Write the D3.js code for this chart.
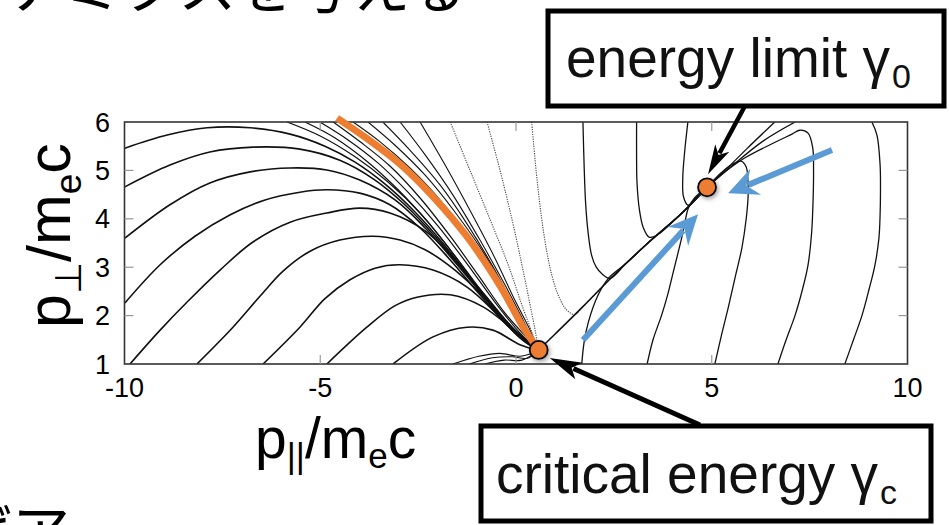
<!DOCTYPE html>
<html><head><meta charset="utf-8">
<script src="https://cdn.jsdelivr.net/npm/d3@7"></script>
<style>html,body{margin:0;padding:0;background:#fff;overflow:hidden}</style>
</head><body>
<svg id="chart" width="949" height="525"></svg>
<script>
// ---- axis ticks ----
const xTicks = [-10, -5, 0, 5, 10];
const yTicks = [1, 2, 3, 4, 5, 6];

// ---- trajectories in (p_par, p_perp) ----
// arcs entering from the left / bottom, bending over into the attractor
const arcsFromLeft = [
  [[-9.99,5.46],[-8.91,5.73],[-7.89,5.88],[-6.79,5.88],[-5.77,5.75],[-4.88,5.50],[-4.11,5.17],[-3.35,4.72],[-2.58,4.14],[-1.81,3.44],[-1.05,2.65],[-0.28,1.87],[0.56,1.29]],
  [[-9.99,4.66],[-8.84,5.11],[-7.82,5.38],[-6.72,5.48],[-5.52,5.44],[-4.50,5.21],[-3.60,4.80],[-2.84,4.29],[-2.07,3.64],[-1.30,2.90],[-0.54,2.12],[0.10,1.54],[0.56,1.29]],
  [[-9.99,3.60],[-8.84,4.29],[-7.82,4.74],[-6.79,4.97],[-5.77,5.05],[-4.83,5.01],[-3.99,4.80],[-3.09,4.39],[-2.32,3.81],[-1.56,3.11],[-0.79,2.36],[-0.10,1.70],[0.56,1.29]],
  [[-9.99,2.26],[-9.09,3.05],[-8.20,3.64],[-7.31,4.08],[-6.41,4.39],[-5.52,4.55],[-4.83,4.60],[-3.99,4.53],[-3.22,4.29],[-2.45,3.81],[-1.68,3.15],[-0.92,2.43],[-0.15,1.74],[0.56,1.29]],
  [[-9.86,1.0],[-9.09,1.70],[-8.40,2.28],[-7.56,2.94],[-6.72,3.52],[-5.77,3.93],[-4.83,4.12],[-3.99,4.22],[-3.22,4.12],[-2.32,3.75],[-1.56,3.15],[-0.79,2.42],[-0.10,1.76],[0.56,1.29]],
  [[-8.15,1.0],[-7.23,1.76],[-6.54,2.40],[-5.95,2.92],[-5.26,3.33],[-4.50,3.56],[-3.65,3.64],[-2.96,3.56],[-2.32,3.36],[-1.56,2.94],[-0.79,2.36],[-0.10,1.74],[0.56,1.29]],
  [[-6.46,1.0],[-5.52,1.76],[-4.88,2.35],[-4.24,2.74],[-3.60,2.98],[-2.96,3.05],[-2.12,2.94],[-1.25,2.59],[-0.41,1.97],[0.28,1.43],[0.56,1.29]],
  [[-4.83,1.0],[-3.81,1.76],[-3.10,2.20],[-2.53,2.38],[-1.68,2.43],[-0.84,2.18],[0.03,1.64],[0.56,1.29]],
  [[-3.14,1.0],[-2.12,1.56],[-1.25,1.76],[-0.59,1.70],[0.10,1.40],[0.56,1.29]]
];
// low bumps just below the critical point
const lowBumps = [
  [[-1.61,1.0],[-0.95,1.16],[-0.41,1.22],[0.10,1.16],[0.56,1.27]],
  [[-1.20,1.0],[-0.60,1.13],[-0.10,1.15],[0.30,1.12],[0.56,1.27]],
  [[-0.80,1.0],[-0.30,1.08],[0.15,1.08],[0.56,1.27]]
];
// lines entering from the top edge, left of the attractor
const arcsFromTop = [
  [[-5.85,6.0],[-5.00,5.71],[-4.11,5.28],[-3.27,4.76],[-2.45,4.12],[-1.68,3.36],[-0.92,2.53],[-0.15,1.79],[0.56,1.29]],
  [[-5.39,6.0],[-4.62,5.67],[-3.78,5.17],[-3.01,4.60],[-2.25,3.93],[-1.48,3.15],[-0.74,2.36],[-0.03,1.70],[0.56,1.29]],
  [[-5.01,6.0],[-4.29,5.63],[-3.52,5.15],[-2.76,4.55],[-1.99,3.85],[-1.25,3.07],[-0.54,2.28],[0.10,1.64],[0.56,1.29]],
  [[-4.67,6.0],[-3.98,5.59],[-3.22,5.09],[-2.45,4.43],[-1.68,3.64],[-0.97,2.84],[-0.28,2.05],[0.28,1.54],[0.56,1.29]]
];
// fan of lines right of the attractor, falling into the critical point
const fanToCritical = [
  [[-4.16,6.0],[-3.47,5.59],[-2.71,5.05],[-1.90,4.35],[-1.12,3.50],[-0.38,2.53],[0.23,1.66],[0.56,1.29]],
  [[-3.78,6.0],[-3.09,5.52],[-2.32,4.90],[-1.56,4.14],[-0.79,3.25],[-0.15,2.32],[0.36,1.60],[0.56,1.29]],
  [[-3.40,6.0],[-2.71,5.42],[-1.94,4.70],[-1.23,3.87],[-0.54,2.94],[0.03,2.07],[0.41,1.54],[0.56,1.29]],
  [[-2.96,6.0],[-2.32,5.32],[-1.61,4.49],[-0.92,3.56],[-0.28,2.63],[0.18,1.91],[0.56,1.29]],
  [[-2.45,6.0],[-1.81,5.11],[-1.18,4.18],[-0.54,3.19],[-0.03,2.32],[0.36,1.70],[0.56,1.29]]
];
// sparse (dotted) trajectories
const dottedLines = [
  [[-1.68,6.0],[-1.18,5.01],[-0.66,3.98],[-0.20,3.05],[0.15,2.22],[0.43,1.60],[0.56,1.29]],
  [[-0.74,6.0],[-0.41,5.01],[-0.10,3.98],[0.15,3.05],[0.36,2.22],[0.51,1.60],[0.56,1.29]],
  [[0.40,6.0],[0.52,4.95],[0.64,4.10],[0.78,3.35],[0.92,2.82],[1.08,2.42],[1.28,2.13],[1.50,2.02],[1.69,2.17],[2.53,2.86],[3.37,3.50],[4.24,4.12],[4.88,4.65]]
];
// separatrix joining the two fixed points
const separatrix = [[0.58,1.29],[1.00,1.62],[1.69,2.17],[2.53,2.86],[3.37,3.50],[4.24,4.12],[4.88,4.65]];
// trajectories falling from the top edge onto the separatrix
const fallingFromTop = [
  [[1.71,6.0],[1.74,5.10],[1.78,4.30],[1.84,3.73],[1.93,3.25],[2.05,3.00],[2.20,2.86],[2.40,2.77],[2.80,3.07],[3.37,3.50],[4.24,4.12],[4.88,4.65]],
  [[3.08,6.0],[3.08,5.30],[3.09,4.76],[3.15,4.20],[3.25,3.82],[3.40,3.62],[3.60,3.66],[4.24,4.12],[4.88,4.65]],
  [[4.39,6.0],[4.31,5.40],[4.26,4.85],[4.28,4.45],[4.40,4.28],[4.62,4.46],[4.88,4.65]]
];
// trajectories rising from the bottom edge
const risingFromBottom = [
  [[1.68,1.0],[1.74,1.45],[1.85,1.87],[2.10,2.43],[2.36,2.77],[2.80,3.07],[3.37,3.50],[4.24,4.12],[4.88,4.65]],
  [[3.35,1.0],[3.50,1.50],[3.72,2.01],[3.88,2.45],[4.02,2.91],[4.14,3.30],[4.23,3.60],[4.32,3.95],[4.40,4.22],[4.55,4.42],[4.88,4.65]],
  [[5.08,1.0],[5.25,1.60],[5.42,2.16],[5.60,2.80],[5.77,3.40],[5.88,4.00],[5.93,4.49],[5.92,4.85],[5.88,5.07],[5.75,5.19],[5.49,5.11],[5.24,4.95],[4.88,4.65]],
  [[6.69,1.0],[6.90,1.50],[7.13,2.01],[7.32,2.55],[7.46,3.05],[7.55,3.70],[7.59,4.43],[7.60,5.00],[7.58,5.46],[7.46,5.77],[7.25,5.83],[7.05,5.75],[6.54,5.55],[5.85,5.26],[5.34,4.97],[4.88,4.65]],
  [[8.40,1.0],[8.62,1.50],[8.84,2.01],[9.02,2.55],[9.17,3.05],[9.27,3.60],[9.30,4.08],[9.31,4.60],[9.30,5.11],[9.22,5.73],[9.09,6.0]]
];
// lines leaving the energy limit towards the top edge
const escapeLines = [
  [[4.88,4.65],[5.34,5.00],[5.90,5.45],[6.61,6.0]],
  [[4.88,4.65],[5.50,5.08],[6.30,5.60],[7.13,6.0]]
];
// attractor highlighted in orange
const attractor = [[-4.57,6.08],[-3.81,5.66],[-2.96,5.13],[-2.12,4.46],[-1.25,3.63],[-0.41,2.62],[0.20,1.74],[0.58,1.29]];
// fixed points
const criticalPoint = [0.58, 1.29];
const limitPoint = [4.88, 4.65];

const ORANGE = "#ED7D31", BLUE = "#5B9BD5";
const FONT = "'Liberation Sans', Arial, Helvetica, sans-serif";

const svg = d3.select("#chart");
const x = d3.scaleLinear().domain([-10, 10]).range([124.5, 907.5]);
const y = d3.scaleLinear().domain([1, 6]).range([364, 122]);

const defs = svg.append("defs");
defs.append("clipPath").attr("id", "plotClip").append("rect")
  .attr("x", x(-10)).attr("y", y(6)).attr("width", x(10) - x(-10)).attr("height", y(1) - y(6));
const shadow = defs.append("filter").attr("id", "soft").attr("x", "-60%").attr("y", "-60%").attr("width", "220%").attr("height", "220%");
shadow.append("feDropShadow").attr("dx", 1.5).attr("dy", 2).attr("stdDeviation", 2.2)
  .attr("flood-color", "#555").attr("flood-opacity", 0.55);

// slide text cut by the frame edges
svg.append("text").attr("x", 6).attr("y", 8)
  .attr("font-family", "'Noto Sans CJK JP', sans-serif").attr("font-size", 58)
  .attr("fill", "#000").text("ナミクスを与える");
svg.append("text").attr("x", -46).attr("y", 553)
  .attr("font-family", "'Noto Sans CJK JP', sans-serif").attr("font-size", 58)
  .attr("fill", "#000").text("ばア");

const line = d3.line().x(d => x(d[0])).y(d => y(d[1])).curve(d3.curveCatmullRom.alpha(0.5));

const plot = svg.append("g").attr("clip-path", "url(#plotClip)");
function drawSet(data, width, dash, color) {
  plot.append("g").selectAll("path").data(data).join("path")
    .attr("d", line).attr("fill", "none").attr("stroke", color || "#111")
    .attr("stroke-width", width).attr("stroke-dasharray", dash || null)
    .attr("stroke-linejoin", "round");
}
drawSet(arcsFromLeft, 1.6);
drawSet(lowBumps, 1.1);
drawSet(arcsFromTop, 1.2);
drawSet(fanToCritical, 1.1);
drawSet(dottedLines, 1.1, "1.2,1.2", "#444");
drawSet([separatrix], 1.6);
drawSet(fallingFromTop, 1.3);
drawSet(risingFromBottom, 1.3);
drawSet(escapeLines, 1.3);

// frame and inward ticks
svg.append("rect").attr("x", x(-10)).attr("y", y(6))
  .attr("width", x(10) - x(-10)).attr("height", y(1) - y(6))
  .attr("fill", "none").attr("stroke", "#333").attr("stroke-width", 1.6);
const tickLen = 9;
const innerY = yTicks.filter(v => v > 1 && v < 6);
const innerX = xTicks.filter(v => v > -10 && v < 10);
const tk = svg.append("g").attr("stroke", "#999").attr("stroke-width", 1.2);
innerY.forEach(v => {
  tk.append("line").attr("x1", x(-10)).attr("x2", x(-10) + tickLen).attr("y1", y(v)).attr("y2", y(v));
  tk.append("line").attr("x1", x(10)).attr("x2", x(10) - tickLen).attr("y1", y(v)).attr("y2", y(v));
});
innerX.forEach(v => {
  tk.append("line").attr("x1", x(v)).attr("x2", x(v)).attr("y1", y(1)).attr("y2", y(1) - tickLen);
  tk.append("line").attr("x1", x(v)).attr("x2", x(v)).attr("y1", y(6)).attr("y2", y(6) + tickLen);
});

// tick labels
svg.append("g").selectAll("text").data(xTicks).join("text")
  .attr("x", d => x(d)).attr("y", 397).attr("text-anchor", "middle")
  .attr("font-family", FONT).attr("font-size", 27).text(d => d < 0 ? "-" + Math.abs(d) : d);
svg.append("g").selectAll("text").data(yTicks).join("text")
  .attr("x", 110).attr("y", d => y(d) + 9.5).attr("text-anchor", "end")
  .attr("font-family", FONT).attr("font-size", 27).text(d => d);

// axis titles
const xt = svg.append("text").attr("x", 255).attr("y", 458)
  .attr("font-family", FONT).attr("font-size", 57);
xt.append("tspan").text("p");
xt.append("tspan").attr("font-size", 35).attr("dy", 10).text("||");
xt.append("tspan").attr("dy", -10).text("/m");
xt.append("tspan").attr("font-size", 35).attr("dy", 10).text("e");
xt.append("tspan").attr("dy", -10).text("c");

const yt = svg.append("text").attr("transform", "translate(70,328) rotate(-90)")
  .attr("font-family", FONT).attr("font-size", 61);
yt.append("tspan").text("p");
yt.append("tspan").attr("font-size", 37).attr("dy", 11).text("⊥");
yt.append("tspan").attr("dy", -11).text("/m");
yt.append("tspan").attr("font-size", 37).attr("dy", 11).text("e");
yt.append("tspan").attr("dy", -11).text("c");

// attractor
svg.append("path").datum(attractor).attr("d", line).attr("fill", "none")
  .attr("stroke", ORANGE).attr("stroke-width", 7).attr("stroke-linecap", "butt");

// arrows
function arrow(tail, tip, color, shaftW, headLen, headHalf, notch) {
  const dx = tip[0] - tail[0], dy = tip[1] - tail[1];
  const L = Math.hypot(dx, dy), ux = dx / L, uy = dy / L, nx = -uy, ny = ux;
  const g = svg.append("g");
  g.append("line").attr("x1", tail[0]).attr("y1", tail[1])
    .attr("x2", tip[0] - ux * (notch + 2)).attr("y2", tip[1] - uy * (notch + 2))
    .attr("stroke", color).attr("stroke-width", shaftW);
  const p = [
    [tip[0], tip[1]],
    [tip[0] - ux * headLen + nx * headHalf, tip[1] - uy * headLen + ny * headHalf],
    [tip[0] - ux * notch, tip[1] - uy * notch],
    [tip[0] - ux * headLen - nx * headHalf, tip[1] - uy * headLen - ny * headHalf]
  ];
  g.append("path").attr("d", "M" + p.join("L") + "Z").attr("fill", color);
}
const cp = [x(criticalPoint[0]), y(criticalPoint[1])];
const lp = [x(limitPoint[0]), y(limitPoint[1])];
arrow([583, 340], [lp[0] - 9, lp[1] + 27], BLUE, 6, 30, 14, 20);
arrow([832, 150], [lp[0] + 21, lp[1] + 6], BLUE, 6, 30, 14, 20);
arrow([746, 104], [lp[0] + 1, lp[1] - 13], "#000", 4.5, 30, 8, 22);
arrow([700, 425], [cp[0] + 11, cp[1] + 8], "#000", 5, 32, 9, 24);

// fixed points
svg.append("g").selectAll("circle").data([criticalPoint, limitPoint]).join("circle")
  .attr("cx", d => x(d[0])).attr("cy", d => y(d[1])).attr("r", 9)
  .attr("fill", ORANGE).attr("stroke", "#000").attr("stroke-width", 1.8)
  .attr("filter", "url(#soft)");

// labelled boxes
function box(x0, y0, w, h, tx, ty, main, sub) {
  svg.append("rect").attr("x", x0).attr("y", y0).attr("width", w).attr("height", h)
    .attr("fill", "#fff").attr("stroke", "#000").attr("stroke-width", 5);
  const t = svg.append("text").attr("x", tx).attr("y", ty)
    .attr("font-family", FONT).attr("font-size", 55).attr("fill", "#111");
  t.append("tspan").text(main);
  t.append("tspan").attr("font-size", 34).attr("dy", 11).attr("dx", 2).text(sub);
}
box(548, 11, 396, 95, 566, 77, "energy limit γ", "0");
box(481, 426, 450, 95, 496, 493, "critical energy γ", "c");
</script>
</body></html>
